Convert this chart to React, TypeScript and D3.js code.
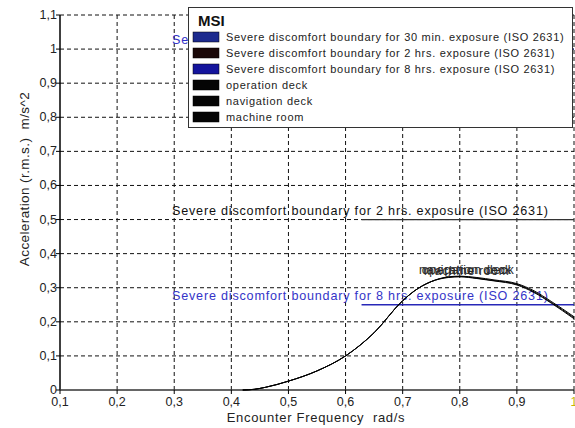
import React from 'react';
import * as d3 from 'd3';

// encounter frequency (rad/s) and rms acceleration (m/s^2) for the three locations
const freq = [0.42, 0.44, 0.46, 0.5, 0.55, 0.6, 0.65, 0.7, 0.72, 0.75, 0.78, 0.8, 0.83, 0.86, 0.9, 0.93, 0.96, 1.0];
const operationDeck = [0, 0.002, 0.008, 0.026, 0.056, 0.1, 0.168, 0.262, 0.29, 0.318, 0.331, 0.333, 0.328, 0.321, 0.31, 0.288, 0.257, 0.212];
const navigationDeck = [0, 0.002, 0.008, 0.026, 0.056, 0.1, 0.168, 0.262, 0.29, 0.318, 0.332, 0.334, 0.33, 0.323, 0.312, 0.291, 0.26, 0.215];
const machineRoom = [0, 0.002, 0.008, 0.026, 0.056, 0.1, 0.168, 0.262, 0.29, 0.318, 0.33, 0.332, 0.327, 0.32, 0.308, 0.286, 0.255, 0.209];

const seriesNames = ['operation deck', 'navigation deck', 'machine room'];

// ISO 2631 severe discomfort boundaries
const boundaryNames = [
  'Severe discomfort boundary for 30 min. exposure (ISO 2631)',
  'Severe discomfort boundary for 2 hrs. exposure (ISO 2631)',
  'Severe discomfort boundary for 8 hrs. exposure (ISO 2631)',
];
const boundaryValues = [1.0, 0.5, 0.25];
const boundaryFrom = [0.628, 0.628, 0.628];
const boundaryTo = [1.0, 1.0, 1.0];

const xTicks = [0.1, 0.2, 0.3, 0.4, 0.5, 0.6, 0.7, 0.8, 0.9, 1.0];
const yTicks = [0, 0.1, 0.2, 0.3, 0.4, 0.5, 0.6, 0.7, 0.8, 0.9, 1.0, 1.1];

const W = 575;
const H = 428;
const FONT = 'Liberation Sans, Arial, sans-serif';

const fmt = (v: number) => String(+v.toFixed(1)).replace('.', ',');

export default function App() {
  const x = d3.scaleLinear().domain([0.1, 1.0]).range([60, 574]);
  const y = d3.scaleLinear().domain([0, 1.1]).range([390, 15]);

  const line = d3
    .line<number>()
    .x((_, i) => x(freq[i]))
    .y((d) => y(d))
    .curve(d3.curveMonotoneX);

  const curves = [operationDeck, navigationDeck, machineRoom];
  const boundaryLine = ['#2a2a9a', '#333333', '#2828b8'];
  const boundaryText = ['#3030c8', '#111111', '#3434c8'];
  const swatches = ['#1c2a8e', '#1a0808', '#14149c', '#050505', '#050505', '#050505'];
  const legendLabels = [...boundaryNames, ...seriesNames];

  const peakIdx = d3.maxIndex(operationDeck);

  return (
    <svg width={W} height={H} style={{ position: 'absolute', left: 0, top: 0, background: '#fff' }} fontFamily={FONT}>
      {/* grid */}
      {xTicks.slice(1).map((t) => (
        <line key={'gx' + t} x1={x(t)} x2={x(t)} y1={y(1.1)} y2={y(0)} stroke="#111" strokeDasharray="4,3" />
      ))}
      {yTicks.slice(1).map((t) => (
        <line key={'gy' + t} x1={x(0.1)} x2={x(1.0)} y1={y(t)} y2={y(t)} stroke="#111" strokeDasharray="4,3" />
      ))}

      {/* axes */}
      <line x1={x(0.1)} x2={x(0.1)} y1={y(1.1)} y2={y(0)} stroke="#000" strokeWidth={1.5} />
      <line x1={x(0.1)} x2={x(1.0)} y1={y(0)} y2={y(0)} stroke="#333" strokeWidth={1.5} />
      {yTicks.map((t) => (
        <g key={'ty' + t}>
          <line x1={x(0.1) - 4} x2={x(0.1)} y1={y(t)} y2={y(t)} stroke="#000" />
          <text x={x(0.1) - 3} y={y(t) + 4} textAnchor="end" fontSize={12.5} fill="#222">
            {fmt(t)}
          </text>
        </g>
      ))}
      {xTicks.map((t) => (
        <g key={'tx' + t}>
          <line x1={x(t)} x2={x(t)} y1={y(0)} y2={y(0) + 4} stroke="#000" />
          <text x={x(t)} y={y(0) + 16} textAnchor="middle" fontSize={12.5} fill={t === 1 ? '#c8b400' : '#222'}>
            {fmt(t)}
          </text>
        </g>
      ))}

      <text x={316} y={422} textAnchor="middle" fontSize={13} letterSpacing={0.7} fill="#222" style={{ whiteSpace: 'pre' }}>
        {'Encounter Frequency  rad/s'}
      </text>
      <text
        transform={`translate(29,${179}) rotate(-90)`}
        textAnchor="middle"
        fontSize={13.5}
        letterSpacing={0.4}
        fill="#222"
        style={{ whiteSpace: 'pre' }}
      >
        {'Acceleration (r.m.s.)  m/s^2'}
      </text>

      {/* boundaries */}
      {boundaryValues.map((v, i) => (
        <g key={'b' + i}>
          <line x1={x(boundaryFrom[i])} x2={x(boundaryTo[i])} y1={y(v)} y2={y(v)} stroke={boundaryLine[i]} strokeWidth={1.3} />
          <text x={172} y={y(v) - 5} fontSize={12.6} letterSpacing={0.8} fill={boundaryText[i]}>
            {boundaryNames[i]}
          </text>
        </g>
      ))}

      {/* curves */}
      {curves.map((c, i) => (
        <path key={'c' + i} d={line(c) || ''} fill="none" stroke="#000" strokeWidth={1} />
      ))}
      {seriesNames.map((n, i) => (
        <text key={'l' + i} x={x(freq[peakIdx]) + 7} y={y(curves[i][peakIdx]) - 2} textAnchor="middle" fontSize={12} letterSpacing={0.8} fill="#2a2a2a">
          {n}
        </text>
      ))}

      {/* legend */}
      <rect x={188.5} y={7.5} width={384} height={120} fill="#fff" stroke="#333" />
      <text x={198} y={26} fontSize={15} fontWeight="bold" fill="#111">
        MSI
      </text>
      {legendLabels.map((n, i) => (
        <g key={'lg' + i}>
          <rect x={193} y={32 + i * 16} width={26} height={10} fill={swatches[i]} stroke="#000" strokeWidth={0.5} />
          <text x={226} y={41 + i * 16} fontSize={11} letterSpacing={0.7} fill="#222">
            {n}
          </text>
        </g>
      ))}
    </svg>
  );
}
